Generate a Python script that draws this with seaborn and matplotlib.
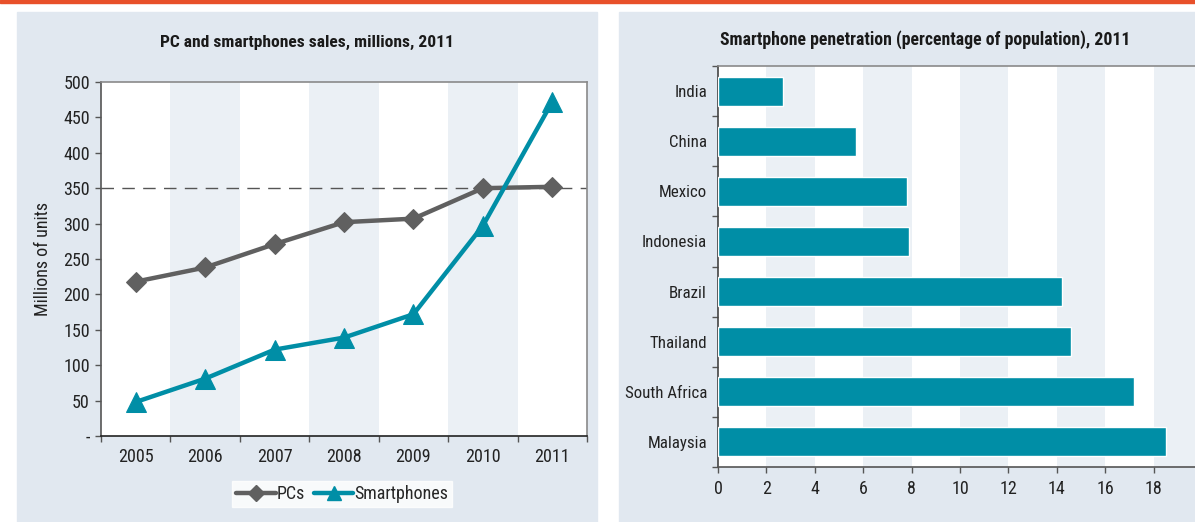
import matplotlib
matplotlib.use("Agg")
import matplotlib.pyplot as plt
import matplotlib.patches as mpatches
from matplotlib.lines import Line2D
import seaborn as sns
import pandas as pd

years = ["2005", "2006", "2007", "2008", "2009", "2010", "2011"]
pcs = [218, 238, 271, 302, 307, 350, 352]
smartphones = [48, 81, 122, 139, 172, 297, 472]

countries = ["India", "China", "Mexico", "Indonesia", "Brazil", "Thailand",
             "South Africa", "Malaysia"]
penetration = [2.7, 5.7, 7.8, 7.9, 14.2, 14.6, 17.2, 18.5]

y_ticks = [0, 50, 100, 150, 200, 250, 300, 350, 400, 450, 500]
y_ticklabels = ["-", "50", "100", "150", "200", "250", "300", "350", "400", "450", "500"]

sns.set_theme(style="white")
plt.rcParams["font.family"] = ["Roboto Condensed", "Liberation Sans Narrow", "Roboto", "DejaVu Sans"]

PANEL = "#e1e8f0"
BAND = "#ebf0f5"
TEAL = "#008ea6"
GREY = "#606060"
W, H = 1195, 522
FS = 13

fig = plt.figure(figsize=(W / 100, H / 100), dpi=100)
fig.patch.set_facecolor("white")

# panels and top rule, behind the axes
for x0, x1 in [(17, 597), (619, W)]:
    fig.patches.append(mpatches.Rectangle((x0 / W, 0), (x1 - x0) / W, 1 - 12 / H,
                                          transform=fig.transFigure, color=PANEL, zorder=-10))
fig.patches.append(mpatches.Rectangle((0, 1 - 3 / H), 1, 3 / H,
                                      transform=fig.transFigure, color="#e8502a", zorder=-10))

# ---- left chart
ax1 = fig.add_axes([101 / W, 1 - 436 / H, 486 / W, 354 / H])
ax1.set_facecolor("white")
x = list(range(len(years)))
df = pd.DataFrame({"x": x, "PCs": pcs, "Smartphones": smartphones})
for i in x:
    if i % 2 == 1:
        ax1.axvspan(i - 0.5, i + 0.5, color=BAND, lw=0, zorder=0)
ax1.axhline(350, color="#555555", lw=1, dashes=(9, 6), zorder=1)
sns.lineplot(data=df, x="x", y="PCs", ax=ax1, color=GREY, lw=3.2,
             marker="D", markersize=10, markeredgecolor=GREY, zorder=3)
sns.lineplot(data=df, x="x", y="Smartphones", ax=ax1, color=TEAL, lw=3.2,
             marker="^", markersize=14, markeredgecolor=TEAL, zorder=4)
ax1.set_xlim(-0.5, len(years) - 0.5)
ax1.set_ylim(0, 500)
ax1.set_xticks(x)
ax1.set_xticklabels(years)
ax1.set_xticks([i - 0.5 for i in range(len(years) + 1)], minor=True)
ax1.tick_params(axis="x", which="major", length=0, labelsize=FS, pad=9, colors="#222222")
ax1.tick_params(axis="x", which="minor", length=4, width=1, direction="out", bottom=True, color="#555555")
ax1.set_yticks(y_ticks)
ax1.set_yticklabels(y_ticklabels)
ax1.tick_params(axis="y", length=4, width=1, direction="out", left=True, labelsize=FS, pad=4,
                colors="#222222")
ax1.tick_params(axis="y", color="#555555")
ax1.set_xlabel("")
ax1.set_ylabel("Millions of units", fontsize=FS, color="#222222", labelpad=8)
for s in ["top", "right"]:
    ax1.spines[s].set_color("#8a8a8a")
    ax1.spines[s].set_linewidth(1.2)
ax1.spines["left"].set_color("#555555")
ax1.spines["left"].set_linewidth(1.2)
ax1.spines["bottom"].set_color("#222222")
ax1.spines["bottom"].set_linewidth(1.2)
fig.text(307 / W, 1 - 42 / H, "PC and smartphones sales, millions, 2011",
         ha="center", va="center", fontsize=12.6, fontweight="bold", color="#1a1a1a")

handles = [Line2D([0], [0], color=GREY, lw=3.2, marker="D", markersize=8),
           Line2D([0], [0], color=TEAL, lw=3.2, marker="^", markersize=10)]
leg = fig.legend(handles, ["PCs", "Smartphones"], loc="center", bbox_to_anchor=(342 / W, 1 - 494 / H),
                 ncol=2, frameon=True, fancybox=False, fontsize=FS, handlelength=2.2,
                 handletextpad=0.05, columnspacing=0.5, borderpad=0.2)
leg.get_frame().set_facecolor("white")
leg.get_frame().set_edgecolor("white")

# ---- right chart
ax2 = fig.add_axes([718 / W, 1 - 467 / H, 484 / W, 401 / H])
ax2.set_facecolor("white")
for v in range(2, 20, 4):
    ax2.axvspan(v, v + 2, color=BAND, lw=0, zorder=0)
bars = pd.DataFrame({"country": countries, "value": penetration})
sns.barplot(data=bars, x="value", y="country", ax=ax2, color=TEAL, saturation=1,
            width=0.58, zorder=3)
ax2.set_xlim(0, 20)
ax2.set_ylim(len(countries) - 0.5, -0.5)
ax2.set_xticks(range(0, 20, 2))
ax2.tick_params(axis="x", length=4, width=1, direction="out", bottom=True, labelsize=FS, pad=5,
                colors="#222222")
ax2.tick_params(axis="x", color="#555555")
ax2.set_yticks([i - 0.5 for i in range(len(countries) + 1)], minor=True)
ax2.tick_params(axis="y", which="major", length=0, labelsize=12.2, pad=8, colors="#222222")
ax2.tick_params(axis="y", which="minor", length=4, width=1, direction="out", left=True, color="#555555")
ax2.set_xlabel("")
ax2.set_ylabel("")
for s in ["top", "right"]:
    ax2.spines[s].set_color("#8a8a8a")
    ax2.spines[s].set_linewidth(1.2)
ax2.spines["left"].set_color("#444444")
ax2.spines["left"].set_linewidth(1.2)
ax2.spines["bottom"].set_color("#555555")
ax2.spines["bottom"].set_linewidth(1.2)
fig.text(925 / W, 1 - 40 / H, "Smartphone penetration (percentage of population), 2011",
         ha="center", va="center", fontsize=12.8, fontweight="bold", color="#1a1a1a")

fig.savefig("out.png", dpi=100)
